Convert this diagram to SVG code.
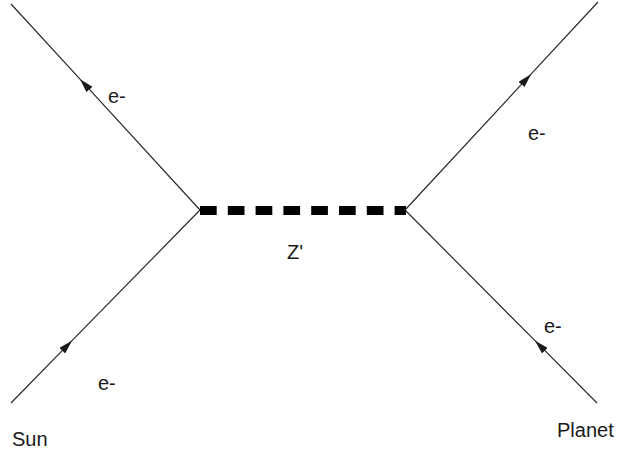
<svg xmlns="http://www.w3.org/2000/svg" width="621" height="454" viewBox="0 0 621 454">
<style>
.f{fill:none;stroke:#2a2a2a;stroke-width:1.2;marker-mid:url(#arr)}
.z{stroke:#000;stroke-width:9;stroke-dasharray:16.7 11.1}
text{font-family:"Liberation Sans",Arial,sans-serif;font-size:20px;fill:#1a1a1a}
</style>
<defs>
<marker id="arr" markerUnits="userSpaceOnUse" viewBox="0 0 14 8" markerWidth="14" markerHeight="8" refX="14" refY="4" orient="auto">
<path d="M0,0 L14,4 L0,8 z" fill="#1a1a1a"/>
</marker>
</defs>
<rect width="621" height="454" fill="#fff"/>
<g id="connectors">
<polyline id="e-top-left" class="f" points="200,210 80,79.2 11,4"/>
<polyline id="e-bottom-left" class="f" points="11,403 72,340.7 200,210"/>
<polyline id="e-top-right" class="f" points="405,210 531,74.2 598,2"/>
<polyline id="e-bottom-right" class="f" points="597,403 535,340.7 405,210"/>
<line id="zprime" class="z" x1="200" y1="210.5" x2="406" y2="210.5"/>
</g>
<g id="label-e-tl"><text x="108" y="103">e-</text></g>
<g id="label-e-bl"><text x="98" y="390">e-</text></g>
<g id="label-e-tr"><text x="528" y="140">e-</text></g>
<g id="label-e-br"><text x="544" y="333">e-</text></g>
<g id="label-z"><text x="287" y="259">Z'</text></g>
<g id="label-sun"><text x="12" y="446">Sun</text></g>
<g id="label-planet"><text x="557" y="437">Planet</text></g>
</svg>
